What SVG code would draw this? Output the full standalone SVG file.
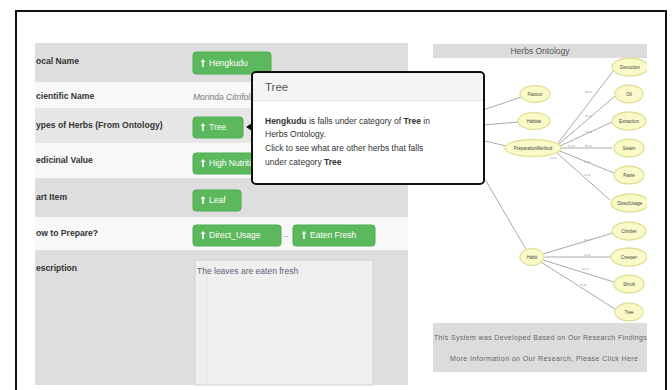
<svg xmlns="http://www.w3.org/2000/svg" width="672" height="390" viewBox="0 0 672 390">
<defs>
<style>
.lbl{font-family:"Liberation Sans",Arial,sans-serif;font-size:8.6px;font-weight:bold;fill:#333}
.btn rect{fill:#5cb85c;stroke:#4cae4c;stroke-width:1}
.btn text{font-family:"Liberation Sans",Arial,sans-serif;font-size:8.5px;fill:#fff}
.ico{fill:#fff}
.tt{font-family:"Liberation Sans",Arial,sans-serif;font-size:8.5px;fill:#333}
.nd ellipse{fill:#fafac8;stroke:#e0e09a;stroke-width:1.3}
.nd text{font-family:"Liberation Sans",Arial,sans-serif;font-size:4.5px;fill:#444;text-anchor:middle}
.edge line{stroke:#aaa;stroke-width:1}
.el{font-family:"Liberation Sans",Arial,sans-serif;font-size:4px;fill:#999}
.ft{font-family:"Liberation Sans",Arial,sans-serif;font-size:7px;fill:#666}
</style>
<path id="arr" d="M0,-4 L2.5,-1 L0.8,-1 L0.8,4 L-0.8,4 L-0.8,-1 L-2.5,-1 Z"/>
</defs>
<rect x="0" y="0" width="672" height="390" fill="#fff"/>
<rect x="16" y="11" width="650" height="390" fill="#fff" stroke="#111" stroke-width="2"/>

<g id="table">
<rect x="35" y="43" width="373" height="39" fill="#dedede"/>
<rect x="35" y="82" width="373" height="26" fill="#f8f8f8"/>
<rect x="35" y="108" width="373" height="35" fill="#e6e6e6"/>
<rect x="35" y="143" width="373" height="35" fill="#f8f8f8"/>
<rect x="35" y="178" width="373" height="39" fill="#dedede"/>
<rect x="35" y="217" width="373" height="33" fill="#f8f8f8"/>
<rect x="35" y="250" width="373" height="135" fill="#dedede"/>
<text class="lbl" x="36" y="64">ocal Name</text>
<text class="lbl" x="36" y="99">cientific Name</text>
<text class="lbl" x="36" y="128">ypes of Herbs (From Ontology)</text>
<text class="lbl" x="36" y="163">edicinal Value</text>
<text class="lbl" x="36" y="200">art Item</text>
<text class="lbl" x="36" y="236">ow to Prepare?</text>
<text class="lbl" x="36" y="271">escription</text>
<text x="193" y="100" font-family="Liberation Sans,Arial,sans-serif" font-size="8.5" font-style="italic" fill="#777">Morinda Citrifolia</text>
<rect x="195" y="260" width="178" height="125" fill="#efefef" stroke="#d0d0d0"/>
<line x1="207" y1="262" x2="207" y2="385" stroke="#e2e2e2"/>
<text x="197" y="274" font-family="Liberation Sans,Arial,sans-serif" font-size="8.5" fill="#6a5a78">The leaves are eaten fresh</text>
</g>

<g id="btn-hengkudu" class="btn"><rect x="193" y="52" width="78" height="22" rx="3"/><use href="#arr" x="203" y="63" class="ico"/><text x="209" y="66">Hengkudu</text></g>
<g id="btn-tree" class="btn"><rect x="193" y="117" width="50" height="21" rx="3"/><use href="#arr" x="203" y="127" class="ico"/><text x="209" y="130">Tree</text></g>
<g id="btn-medicinal" class="btn"><rect x="193" y="153" width="66" height="21" rx="3"/><use href="#arr" x="203" y="163" class="ico"/><text x="209" y="166">High Nutrition</text></g>
<g id="btn-leaf" class="btn"><rect x="193" y="190" width="48" height="21" rx="3"/><use href="#arr" x="203" y="200" class="ico"/><text x="209" y="203">Leaf</text></g>
<g id="btn-direct" class="btn"><rect x="193" y="225" width="88" height="21" rx="3"/><use href="#arr" x="203" y="235" class="ico"/><text x="209" y="238">Direct_Usage</text></g>
<text x="284" y="238" font-family="Liberation Sans,Arial,sans-serif" font-size="8" fill="#888">–</text>
<g id="btn-eaten" class="btn"><rect x="293" y="225" width="82" height="21" rx="3"/><use href="#arr" x="304" y="235" class="ico"/><text x="310" y="238">Eaten Fresh</text></g>

<g id="ontology">
<rect x="433" y="44" width="214" height="14" fill="#dcdcdc"/>
<text x="540" y="54" text-anchor="middle" font-family="Liberation Sans,Arial,sans-serif" font-size="8.5" fill="#555">Herbs Ontology</text>
</g>

<g id="connectors" class="edge">
<line x1="460" y1="118" x2="521" y2="97"/>
<line x1="460" y1="127" x2="518" y2="122"/>
<line x1="460" y1="135" x2="506" y2="146"/>
<line x1="462" y1="140" x2="527" y2="251"/>
<line x1="558" y1="143" x2="614" y2="70"/>
<line x1="559" y1="144" x2="615" y2="96"/>
<line x1="560" y1="146" x2="612" y2="122"/>
<line x1="561" y1="148" x2="612" y2="148"/>
<line x1="560" y1="151" x2="614" y2="173"/>
<line x1="557" y1="153" x2="610" y2="200"/>
<line x1="543" y1="254" x2="613" y2="233"/>
<line x1="545" y1="257" x2="612" y2="257"/>
<line x1="543" y1="260" x2="614" y2="282"/>
<line x1="541" y1="262" x2="615" y2="309"/>
<text class="el" x="585" y="93">is-a</text>
<text class="el" x="585" y="117">is-a</text>
<text class="el" x="585" y="133">is-a</text>
<text class="el" x="585" y="147">is-a</text>
<text class="el" x="584" y="163">is-a</text>
<text class="el" x="584" y="176">is-a</text>
<text class="el" x="568" y="147">is-a</text>
<text class="el" x="550" y="159">is-a</text>
<text class="el" x="584" y="241">is-a</text>
<text class="el" x="584" y="256">is-a</text>
<text class="el" x="582" y="270">is-a</text>
<text class="el" x="580" y="286">is-a</text>
</g>

<g id="n-flavour" class="nd"><ellipse cx="535" cy="94" rx="15" ry="8.5"/><text x="535" y="96">Flavour</text></g>
<g id="n-habitat" class="nd"><ellipse cx="534" cy="121" rx="16" ry="8.5"/><text x="534" y="123">Habitat</text></g>
<g id="n-prep" class="nd"><ellipse cx="533" cy="148" rx="28" ry="8.5"/><text x="533" y="150">PreparationMethod</text></g>
<g id="n-decoction" class="nd"><ellipse cx="630" cy="67" rx="18" ry="9"/><text x="630" y="69">Decoction</text></g>
<g id="n-oil" class="nd"><ellipse cx="629" cy="94" rx="14" ry="9"/><text x="629" y="96">Oil</text></g>
<g id="n-extraction" class="nd"><ellipse cx="629" cy="121" rx="17" ry="9"/><text x="629" y="123">Extraction</text></g>
<g id="n-steam" class="nd"><ellipse cx="629" cy="148" rx="15" ry="9"/><text x="629" y="150">Steam</text></g>
<g id="n-paste" class="nd"><ellipse cx="629" cy="175" rx="15" ry="9"/><text x="629" y="177">Paste</text></g>
<g id="n-directusage" class="nd"><ellipse cx="630" cy="203" rx="19" ry="9"/><text x="630" y="205">DirectUsage</text></g>
<g id="n-habit" class="nd"><ellipse cx="532" cy="257" rx="12" ry="8.5"/><text x="532" y="259">Habit</text></g>
<g id="n-climber" class="nd"><ellipse cx="629" cy="231" rx="17" ry="9"/><text x="629" y="233">Climber</text></g>
<g id="n-creeper" class="nd"><ellipse cx="629" cy="257" rx="18" ry="9"/><text x="629" y="259">Creeper</text></g>
<g id="n-shrub" class="nd"><ellipse cx="629" cy="284" rx="15" ry="9"/><text x="629" y="286">Shrub</text></g>
<g id="n-tree" class="nd"><ellipse cx="629" cy="312" rx="14" ry="9"/><text x="629" y="314">Tree</text></g>

<g id="footer">
<rect x="433" y="323" width="214" height="49" fill="#dcdcdc"/>
<text class="ft" x="434" y="340" textLength="222">This System was Developed Based on Our Research Findings. F</text>
<text class="ft" x="450" y="361" textLength="188">More Information on Our Research, Please Click Here</text>
</g>
<rect x="647" y="40" width="18" height="340" fill="#fff"/>

<g id="tooltip">
<path d="M252,123 L246,127 L252,131 Z" fill="#111"/>
<rect x="252" y="72" width="232" height="112" rx="4" fill="#fff" stroke="#111" stroke-width="2"/>
<path d="M253,100 L253,77 Q253,73 257,73 L479,73 Q483,73 483,77 L483,100 Z" fill="#f4f4f4"/>
<line x1="253" y1="100.5" x2="483" y2="100.5" stroke="#e2e2e2"/>
<text x="265" y="91" font-family="Liberation Sans,Arial,sans-serif" font-size="11.5" fill="#555">Tree</text>
<text class="tt" x="265" y="124"><tspan font-weight="bold">Hengkudu</tspan> is falls under category of <tspan font-weight="bold">Tree</tspan> in</text>
<text class="tt" x="265" y="137">Herbs Ontology.</text>
<text class="tt" x="265" y="151">Click to see what are other herbs that falls</text>
<text class="tt" x="265" y="165">under category <tspan font-weight="bold">Tree</tspan></text>
</g>
</svg>
